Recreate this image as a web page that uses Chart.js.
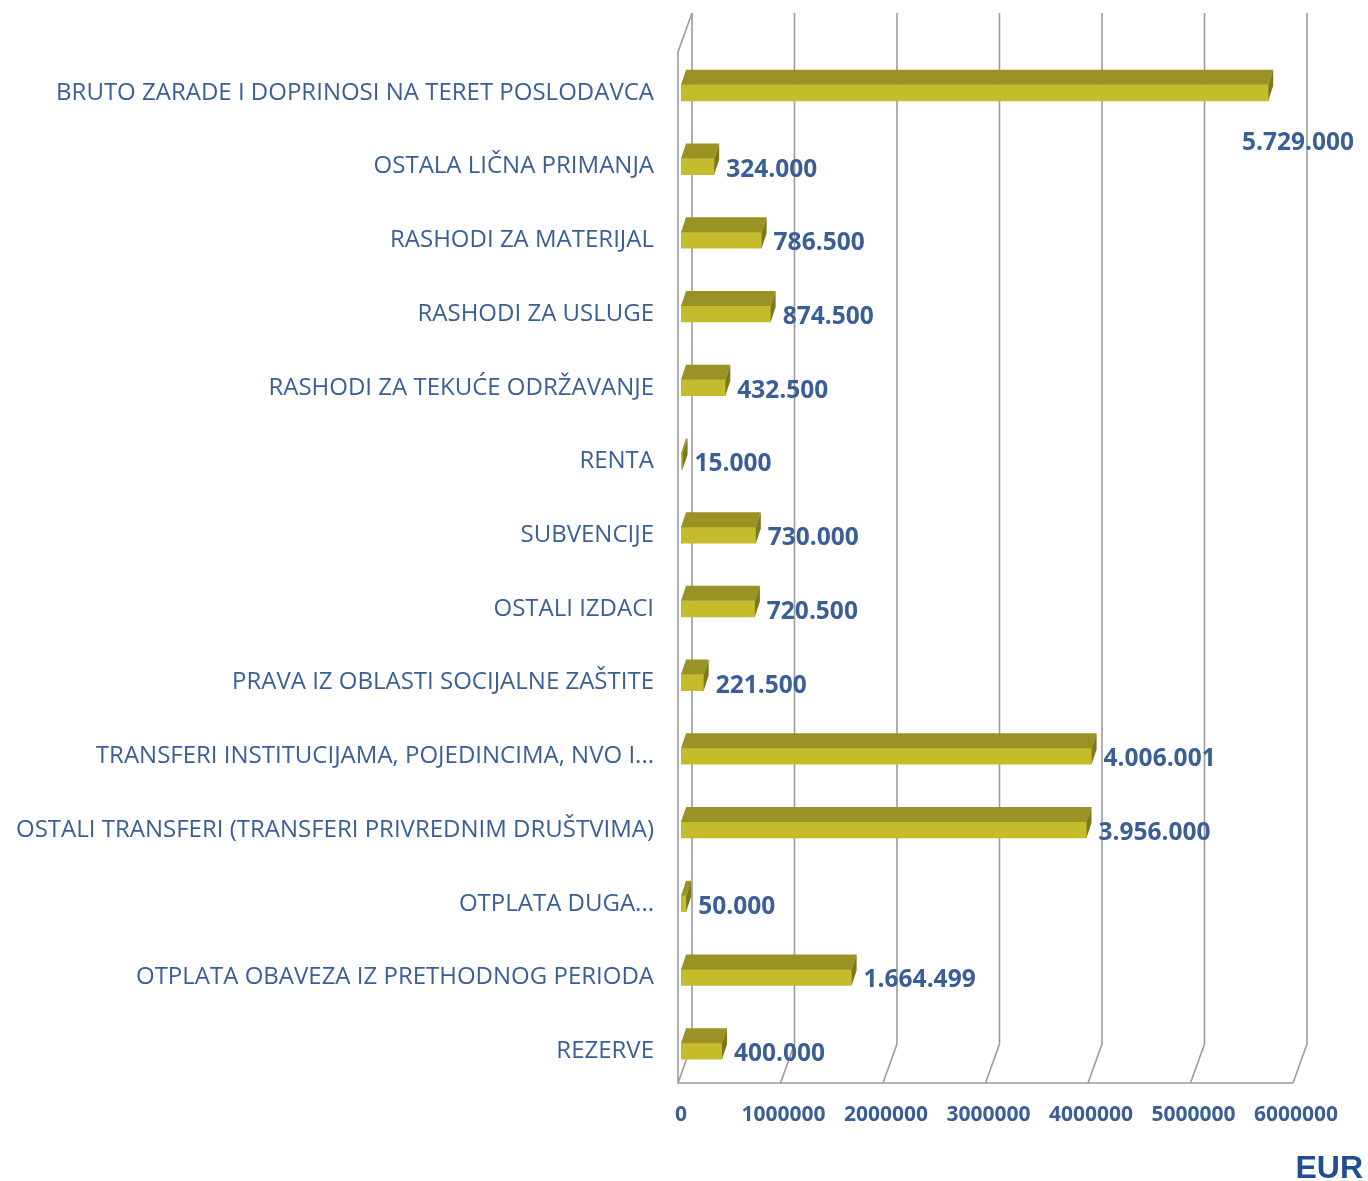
<!DOCTYPE html>
<html>
<head>
<meta charset="utf-8">
<script src="https://cdn.jsdelivr.net/npm/chart.js@4.4.1/dist/chart.umd.min.js"></script>
<style>
  html, body { margin: 0; padding: 0; background: #ffffff; }
  #wrap { width: 1368px; height: 1181px; position: relative; }
</style>
</head>
<body>
<div id="wrap"><canvas id="chartRashodi"></canvas></div>
<script>
const kategorije = [
    'BRUTO ZARADE I DOPRINOSI NA TERET POSLODAVCA',
    'OSTALA LIČNA PRIMANJA',
    'RASHODI ZA MATERIJAL',
    'RASHODI ZA USLUGE',
    'RASHODI ZA TEKUĆE ODRŽAVANJE',
    'RENTA',
    'SUBVENCIJE',
    'OSTALI IZDACI',
    'PRAVA IZ OBLASTI SOCIJALNE ZAŠTITE',
    'TRANSFERI INSTITUCIJAMA, POJEDINCIMA, NVO I...',
    'OSTALI TRANSFERI (TRANSFERI PRIVREDNIM DRUŠTVIMA)',
    'OTPLATA DUGA...',
    'OTPLATA OBAVEZA IZ PRETHODNOG PERIODA',
    'REZERVE'
];

const iznosi = [5729000, 324000, 786500, 874500, 432500, 15000, 730000, 720500, 221500, 4006001, 3956000, 50000, 1664499, 400000];

const osaMin = 0;
const osaMax = 6000000;
const osaKorak = 1000000;

const jedinica = 'EUR';

const FONT = '"Open Sans", "Liberation Sans", Arial, sans-serif';
const PLAVA = '#3a5f96';
const PLAVA_TAMNA = '#1f4f8f';
const LICE = '#c4bc2a';
const VRH = '#9a9224';
const BOK = '#7e781a';
const MREZA = '#9c9c9c';

// dubina kvadra i zida (3D efekat kao u Excelu)
const DUB_X = 5, DUB_Y = -15;
const ZID_X = 14, ZID_Y = -39;

function formatIznos(v) {
    return String(v).replace(/\B(?=(\d{3})+(?!\d))/g, '.');
}

const mreza3D = {
    id: 'mreza3D',
    beforeDatasetsDraw(chart) {
        const { ctx, chartArea, scales } = chart;
        const xs = scales.x;
        const pod = chartArea.bottom - 5;
        const vrh = 13;
        ctx.save();
        ctx.strokeStyle = MREZA;
        ctx.lineWidth = 1.6;
        for (let v = osaMin; v <= osaMax; v += osaKorak) {
            const fx = xs.getPixelForValue(v) - 3;
            const bx = fx + ZID_X;
            ctx.beginPath();
            ctx.moveTo(bx, vrh);
            ctx.lineTo(bx, pod + ZID_Y);
            ctx.lineTo(fx, pod);
            ctx.stroke();
        }
        const x0 = xs.getPixelForValue(osaMin) - 3;
        const x1 = xs.getPixelForValue(osaMax) - 3;
        ctx.beginPath();
        ctx.moveTo(x0 + ZID_X, vrh);
        ctx.lineTo(x0, vrh - ZID_Y);
        ctx.lineTo(x0, pod);
        ctx.lineTo(x1, pod);
        ctx.stroke();
        ctx.restore();
    }
};

const kvadri = {
    id: 'kvadri',
    afterDatasetsDraw(chart) {
        const { ctx } = chart;
        const meta = chart.getDatasetMeta(0);
        ctx.save();
        meta.data.forEach((bar, i) => {
            const p = bar.getProps(['x', 'y', 'base', 'height'], true);
            const l = p.base, r = p.x;
            const t = p.y - p.height / 2, b = p.y + p.height / 2;
            // gornja strana
            ctx.fillStyle = VRH;
            ctx.beginPath();
            ctx.moveTo(l, t);
            ctx.lineTo(l + DUB_X, t + DUB_Y);
            ctx.lineTo(r + DUB_X, t + DUB_Y);
            ctx.lineTo(r, t);
            ctx.closePath();
            ctx.fill();
            // bočna strana
            ctx.fillStyle = BOK;
            ctx.beginPath();
            ctx.moveTo(r, t);
            ctx.lineTo(r + DUB_X, t + DUB_Y);
            ctx.lineTo(r + DUB_X, b + DUB_Y);
            ctx.lineTo(r, b);
            ctx.closePath();
            ctx.fill();

            // vrijednost
            ctx.font = 'bold 24.5px ' + FONT;
            ctx.fillStyle = PLAVA;
            ctx.textBaseline = 'middle';
            const tekst = formatIznos(iznosi[i]);
            const w = ctx.measureText(tekst).width;
            let tx = r + 12;
            let ty = p.y + 3;
            if (tx + w > chart.width - 10) {
                tx = chart.width - 14 - w;
                ty = p.y + 50;
            }
            ctx.textAlign = 'left';
            ctx.fillText(tekst, tx, ty);
        });
        // jedinica
        ctx.font = 'bold 32px "Liberation Sans", Arial, sans-serif';
        ctx.fillStyle = PLAVA_TAMNA;
        ctx.textAlign = 'right';
        ctx.textBaseline = 'alphabetic';
        ctx.fillText(jedinica, chart.width - 5, 1178);
        ctx.restore();
    }
};

const ctxRashodi = document.getElementById('chartRashodi');

new Chart(ctxRashodi, {
    type: 'bar',
    data: {
        labels: kategorije,
        datasets: [{
            data: iznosi,
            backgroundColor: LICE,
            borderWidth: 0,
            barThickness: 16
        }]
    },
    options: {
        indexAxis: 'y',
        responsive: true,
        maintainAspectRatio: false,
        animation: false,
        layout: { padding: { top: 56, right: 72, bottom: 0, left: 0 } },
        plugins: {
            legend: { display: false },
            tooltip: { enabled: false }
        },
        scales: {
            x: {
                min: osaMin,
                max: osaMax,
                grid: { display: false, drawTicks: false },
                border: { display: false },
                ticks: {
                    stepSize: osaKorak,
                    padding: 14,
                    color: PLAVA,
                    font: { family: FONT, size: 21, weight: 'bold' },
                    maxRotation: 0,
                    callback: v => String(v)
                },
                afterFit(scale) { scale.height = 93; }
            },
            y: {
                grid: { display: false, drawTicks: false },
                border: { display: false },
                ticks: {
                    padding: 27,
                    color: PLAVA,
                    font: { family: FONT, size: 24 },
                    autoSkip: false
                },
                afterFit(scale) { scale.width = 681; }
            }
        }
    },
    plugins: [mreza3D, kvadri]
});
</script>
</body>
</html>
